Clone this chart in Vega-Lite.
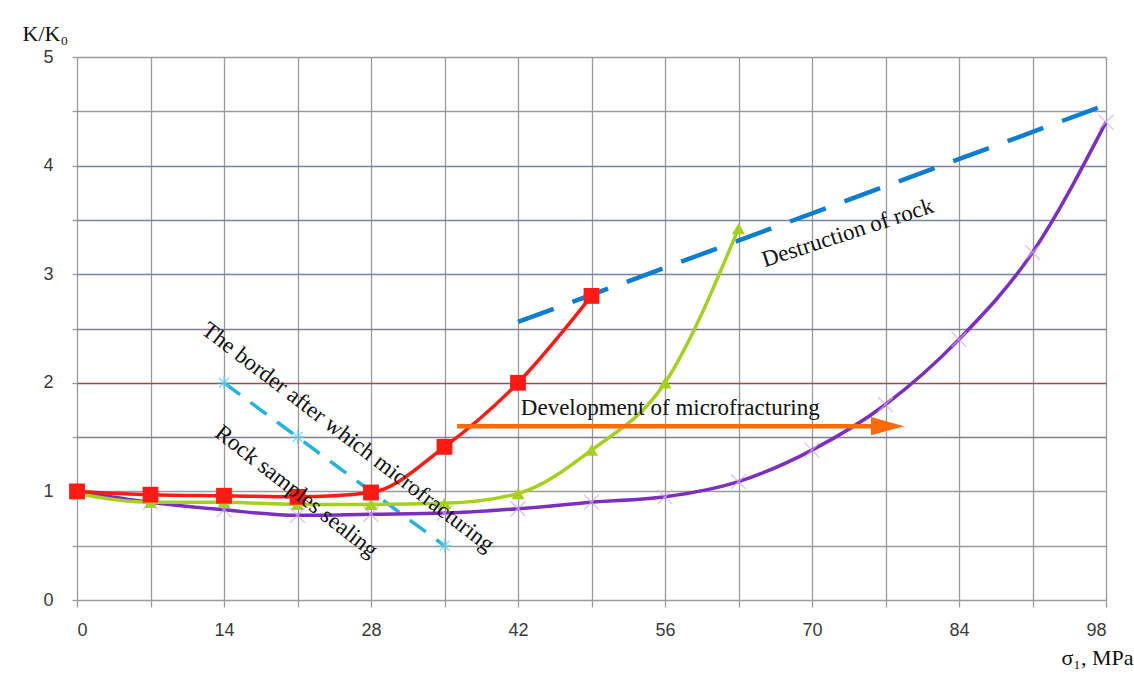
{
  "$schema": "https://vega.github.io/schema/vega-lite/v6.json",
  "autosize": {"type": "none"},
  "width": 1029,
  "height": 543,
  "padding": {"left": 77, "top": 57, "right": 28, "bottom": 86},
  "background": "white",
  "config": {
    "view": {"stroke": null},
    "axis": {
      "labelFont": "Liberation Sans",
      "labelFontSize": 18,
      "labelColor": "#3a3a3a",
      "titleFont": "Liberation Serif",
      "titleFontWeight": "normal",
      "titleColor": "#111111",
      "titleFontSize": 22,
      "domain": false,
      "gridWidth": 1.3,
      "tickColor": "#9a9a9a",
      "tickWidth": 1.3
    }
  },
  "datasets": {
    "red": [
      {"x": 0, "y": 1.0}, {"x": 7, "y": 0.97}, {"x": 14, "y": 0.96}, {"x": 21, "y": 0.95},
      {"x": 28, "y": 0.99}, {"x": 35, "y": 1.41}, {"x": 42, "y": 2.0}, {"x": 49, "y": 2.8}
    ],
    "green": [
      {"x": 0, "y": 0.98}, {"x": 7, "y": 0.9}, {"x": 14, "y": 0.9}, {"x": 21, "y": 0.88},
      {"x": 28, "y": 0.88}, {"x": 35, "y": 0.89}, {"x": 42, "y": 0.98}, {"x": 49, "y": 1.38},
      {"x": 56, "y": 2.0}, {"x": 63, "y": 3.42}
    ],
    "purple": [
      {"x": 0, "y": 1.0}, {"x": 7, "y": 0.9}, {"x": 14, "y": 0.83}, {"x": 21, "y": 0.78},
      {"x": 28, "y": 0.79}, {"x": 35, "y": 0.8}, {"x": 42, "y": 0.84}, {"x": 49, "y": 0.9},
      {"x": 56, "y": 0.95}, {"x": 63, "y": 1.09}, {"x": 70, "y": 1.38}, {"x": 77, "y": 1.8},
      {"x": 84, "y": 2.4}, {"x": 91, "y": 3.2}, {"x": 98, "y": 4.4}
    ],
    "sealing": [
      {"x": 14, "y": 2.0}, {"x": 21, "y": 1.5}, {"x": 28, "y": 1.0}, {"x": 35, "y": 0.5}
    ],
    "destruction": [
      {"x": 42, "y": 2.56}, {"x": 98, "y": 4.56}
    ],
    "arrow": [
      {"x": 36.2, "y": 1.6}, {"x": 76, "y": 1.6}
    ],
    "arrowhead": [
      {"x": 77.2, "y": 1.6}
    ]
  },
  "encoding": {
    "x": {
      "field": "x", "type": "quantitative",
      "scale": {"domain": [0, 98], "nice": false, "zero": false},
      "axis": {
        "values": [0, 7, 14, 21, 28, 35, 42, 49, 56, 63, 70, 77, 84, 91, 98],
        "labelExpr": "datum.value % 14 == 0 ? datum.label : ''",
        "grid": true,
        "gridColor": "#9a9a9a",
        "tickSize": 7,
        "labelPadding": 14,
        "title": "σ₁, MPa",
        "titleAnchor": "end",
        "titleAlign": "right",
        "titleX": 1056,
        "titleY": 64,
        "titleBaseline": "alphabetic"
      }
    },
    "y": {
      "field": "y", "type": "quantitative",
      "scale": {"domain": [0, 5], "nice": false, "zero": false},
      "axis": {
        "values": [0, 0.5, 1, 1.5, 2, 2.5, 3, 3.5, 4, 4.5, 5],
        "labelExpr": "datum.value % 1 == 0 ? format(datum.value, 'd') : ''",
        "grid": true,
        "gridColor": {
          "condition": [
            {"test": "datum.value == 2", "value": "#9a4a4a"},
            {"test": "datum.value == 2.5 || datum.value == 1.5", "value": "#857a95"},
            {"test": "datum.value >= 3 && datum.value <= 4", "value": "#7683aa"}
          ],
          "value": "#9a9a9a"
        },
        "tickSize": 5,
        "labelPadding": 19,
        "title": "K/K₀",
        "titleAngle": 0,
        "titleAlign": "left",
        "titleBaseline": "alphabetic",
        "titleX": -55,
        "titleY": -17
      }
    }
  },
  "layer": [
    {
      "data": {"name": "sealing"},
      "mark": {"type": "line", "color": "#22b4dc", "strokeWidth": 3.5, "strokeDash": [20, 13]}
    },
    {
      "data": {"name": "sealing"},
      "mark": {"type": "point", "shape": "M0,-1L0,1M-1,0L1,0M-0.7,-0.7L0.7,0.7M-0.7,0.7L0.7,-0.7", "filled": false, "stroke": "#5fd0ea", "strokeWidth": 1.5, "size": 200}
    },
    {
      "data": {"name": "destruction"},
      "mark": {"type": "line", "color": "#0d7dd2", "strokeWidth": 4.5, "strokeDash": [38, 20]}
    },
    {
      "data": {"name": "purple"},
      "mark": {"type": "line", "color": "#7a2fc0", "strokeWidth": 3.5, "interpolate": "monotone"}
    },
    {
      "data": {"name": "purple"},
      "mark": {"type": "point", "shape": "M-1,-1L1,1M-1,1L1,-1", "filled": false, "stroke": "#d6aee6", "strokeWidth": 1.5, "size": 220}
    },
    {
      "data": {"name": "green"},
      "mark": {"type": "line", "color": "#a6d01e", "strokeWidth": 3.5, "interpolate": "monotone"}
    },
    {
      "data": {"name": "green"},
      "mark": {"type": "point", "shape": "triangle-up", "filled": true, "color": "#a6d01e", "opacity": 1, "size": 170}
    },
    {
      "data": {"name": "red"},
      "mark": {"type": "line", "color": "#ff1a14", "strokeWidth": 3.5, "interpolate": "monotone"}
    },
    {
      "data": {"name": "red"},
      "mark": {"type": "point", "shape": "square", "filled": true, "color": "#ff1a14", "opacity": 1, "size": 250}
    },
    {
      "data": {"name": "arrow"},
      "mark": {"type": "line", "color": "#ff6a0a", "strokeWidth": 4.5}
    },
    {
      "data": {"name": "arrowhead"},
      "mark": {"type": "point", "shape": "M-1,-0.55L1,0L-1,0.55Z", "filled": true, "color": "#ff6a0a", "opacity": 1, "size": 1100}
    },
    {
      "data": {"values": [{"x": 56.5, "y": 1.77, "label": "Development of microfracturing"}]},
      "mark": {"type": "text", "font": "Liberation Serif", "fontSize": 23, "color": "#111111", "align": "center", "baseline": "middle"},
      "encoding": {"text": {"field": "label"}}
    },
    {
      "data": {"values": [{"x": 73.4, "y": 3.38, "label": "Destruction of rock"}]},
      "mark": {"type": "text", "font": "Liberation Serif", "fontSize": 23, "color": "#111111", "align": "center", "baseline": "middle", "angle": -18},
      "encoding": {"text": {"field": "label"}}
    },
    {
      "data": {"values": [{"x": 25.8, "y": 1.5, "label": "The border after which microfracturing"}]},
      "mark": {"type": "text", "font": "Liberation Serif", "fontSize": 23, "color": "#111111", "align": "center", "baseline": "middle", "angle": 37.5},
      "encoding": {"text": {"field": "label"}}
    },
    {
      "data": {"values": [{"x": 20.9, "y": 1.0, "label": "Rock samples sealing"}]},
      "mark": {"type": "text", "font": "Liberation Serif", "fontSize": 23, "color": "#111111", "align": "center", "baseline": "middle", "angle": 38},
      "encoding": {"text": {"field": "label"}}
    }
  ]
}
